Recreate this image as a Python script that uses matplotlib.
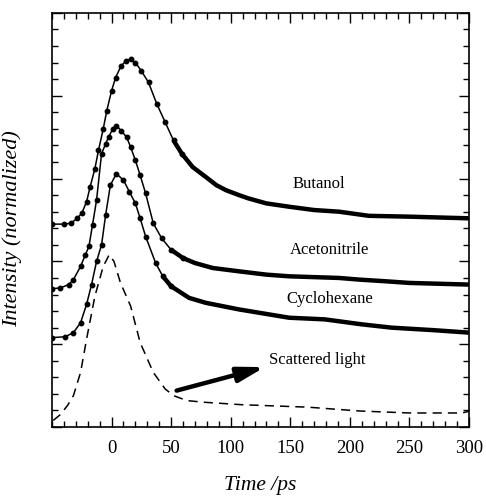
import matplotlib
matplotlib.use('Agg')
import matplotlib.pyplot as plt
from matplotlib.ticker import MultipleLocator

plt.rcParams['font.family'] = ['Liberation Serif', 'DejaVu Serif']

# time (ps) and normalized intensity
t_butanol = [-50, -40, -34, -29, -25, -21, -18, -14, -11, -7, -4, 0, 3.4, 8, 12, 16, 20, 25, 31, 38, 45, 52,
             59, 68, 79, 88, 96, 107, 115, 130, 149, 170, 191, 216, 250, 275, 300]
i_butanol = [12.25, 12.25, 12.3, 12.6, 12.9, 13.6, 14.5, 15.6, 16.7, 18.0, 19.1, 20.3, 21.1, 21.8, 22.1, 22.2,
             22.0, 21.5, 20.8, 19.5, 18.4, 17.3, 16.5, 15.7, 15.1, 14.6, 14.3, 14.0, 13.8, 13.5, 13.3, 13.1,
             13.0, 12.75, 12.7, 12.65, 12.6]

t_aceto = [-50, -43, -36, -32, -26, -22, -19, -16, -12.6, -8.4, -5, -2.5, 1, 4, 8, 12.6, 16, 20, 24, 28.6, 35,
           42, 50, 60, 70, 85, 107, 130, 149, 170, 191, 208, 230, 250, 275, 300]
i_aceto = [8.35, 8.4, 8.6, 8.9, 9.7, 10.4, 10.9, 12.2, 13.7, 16.5, 17.1, 17.5, 18.0, 18.2, 17.9, 17.5, 16.9,
           16.1, 15.2, 14.1, 12.3, 11.4, 10.7, 10.2, 9.9, 9.6, 9.4, 9.2, 9.1, 9.05, 9.0, 8.9, 8.8, 8.7, 8.65, 8.6]

t_cyclo = [-50, -39, -32, -26, -21, -16.8, -12.6, -8.4, -5, -1, 4, 10, 15, 20, 24, 28.6, 37, 43, 50, 65, 79,
           107, 149, 179, 210, 235, 270, 300]
i_cyclo = [5.4, 5.45, 5.7, 6.3, 7.4, 8.6, 10.0, 11.0, 12.8, 14.6, 15.3, 14.9, 14.2, 13.5, 12.6, 11.5, 9.9, 9.1,
           8.5, 7.8, 7.5, 7.1, 6.6, 6.5, 6.2, 6.0, 5.85, 5.7]

t_scatter = [-49, -43, -37, -32, -26, -21, -14, -7, -2, 2, 7.5, 16, 24, 35, 45, 52, 63, 77, 109, 165, 208,
             250, 294, 300]
i_scatter = [0.4, 0.75, 1.3, 1.9, 3.3, 5.3, 7.9, 9.7, 10.4, 10.0, 8.7, 7.3, 5.1, 3.3, 2.3, 1.9, 1.6, 1.5,
             1.35, 1.2, 0.97, 0.85, 0.85, 0.95]

labels = ['Butanol', 'Acetonitrile', 'Cyclohexane', 'Scattered light']
label_pos = [(174, 14.7), (183, 10.7), (183, 7.7), (173, 4.05)]

fig = plt.figure(figsize=(4.86, 4.96), dpi=100)
ax = fig.add_axes([0.107, 0.139, 0.858, 0.835])

for t, y in [(t_butanol, i_butanol), (t_aceto, i_aceto), (t_cyclo, i_cyclo)]:
    ax.plot(t, y, color='black', lw=1.1)
    # data dots; dense tail looks like a thick trace
    n = sum(1 for v in t if v <= 60)
    ax.plot(t[:n], y[:n], 'o', color='black', ms=3.2)
    ax.plot(t[n - 2:], y[n - 2:], color='black', lw=3.2, solid_capstyle='butt')

ax.plot(t_scatter, i_scatter, color='black', lw=1.1, dashes=(6, 4))

ax.annotate('', xy=(128.6, 3.62), xytext=(54.6, 2.2),
            arrowprops=dict(arrowstyle='-|>,head_length=1.6,head_width=0.45', lw=3.2, color='black',
                            shrinkA=0, shrinkB=0))

for s, (x, y) in zip(labels, label_pos):
    ax.text(x, y, s, fontsize=12, ha='center', va='center')

ax.set_xlim(-50, 300)
ax.set_ylim(0, 25)
ax.set_xticks([0, 50, 100, 150, 200, 250, 300])
ax.xaxis.set_minor_locator(MultipleLocator(10))
ax.yaxis.set_major_locator(MultipleLocator(5))
ax.yaxis.set_minor_locator(MultipleLocator(1))
ax.set_yticklabels([])
ax.tick_params(which='both', direction='in', top=True, right=True, width=1)
ax.tick_params(which='major', length=7, labelsize=13.5, pad=9)
ax.tick_params(which='minor', length=4)
for sp in ax.spines.values():
    sp.set_linewidth(1.2)

ax.set_xlabel('Time /ps', fontsize=15.5, style='italic', labelpad=14)
ax.set_ylabel('Intensity (normalized)', fontsize=16, style='italic')
ax.yaxis.set_label_coords(-0.072, 0.48)

fig.savefig('out.png', dpi=100)
